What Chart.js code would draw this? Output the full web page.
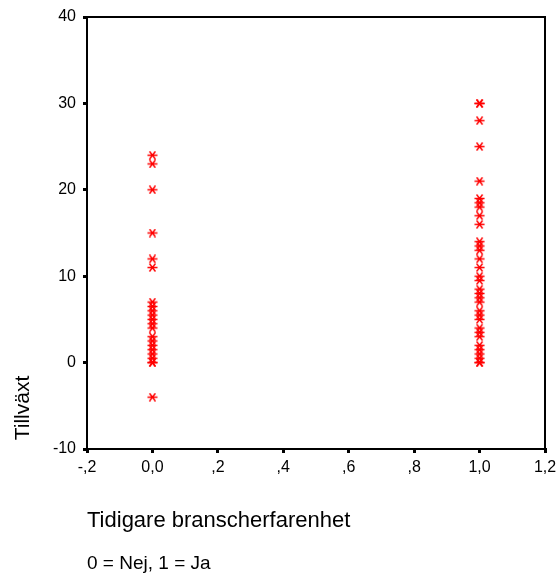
<!DOCTYPE html>
<html>
<head>
<meta charset="utf-8">
<script src="https://cdn.jsdelivr.net/npm/chart.js@4"></script>
<style>
  body { margin: 0; background: #fff; }
</style>
</head>
<body>
<canvas id="scatter" width="557" height="573"></canvas>
<script>
// Tillväxt per grupp: 0 = Nej, 1 = Ja
const groupNej = [24, 23, 20, 15, 12, 11, 7, 6.5, 6, 5.5, 5, 4.5, 4, 3, 2.5, 2, 1.5, 1, 0.5, 0, 0, -4];
const groupJa = [30, 30, 28, 25, 21, 19, 18.5, 18, 17, 16, 14, 13.5, 13, 12, 11, 10, 9.5, 8.5, 8, 7.5,
  7, 6, 5.5, 5, 4, 3.5, 3, 2, 1.5, 1, 0.5, 0, 0];

const xTickValues = [-0.2, 0, 0.2, 0.4, 0.6, 0.8, 1.0, 1.2];
const xTickLabels = ["-,2", "0,0", ",2", ",4", ",6", ",8", "1,0", "1,2"];
const yTickValues = [-10, 0, 10, 20, 30, 40];
const yTickLabels = ["-10", "0", "10", "20", "30", "40"];

const xTitle = "Tidigare branscherfarenhet";
const yTitle = "Tillväxt";
const note = "0 = Nej, 1 = Ja";

const FONT = "'Liberation Sans', Arial, sans-serif";

// asterisk marker: horizontal bar plus an X
function makeStar() {
  const c = document.createElement("canvas");
  c.width = 11;
  c.height = 9;
  const g = c.getContext("2d");
  g.strokeStyle = "#ff0000";
  g.lineWidth = 1.4;
  g.beginPath();
  g.moveTo(0.5, 4.5); g.lineTo(10.5, 4.5);
  g.moveTo(2.5, 0.5); g.lineTo(8.5, 8.5);
  g.moveTo(8.5, 0.5); g.lineTo(2.5, 8.5);
  g.stroke();
  return c;
}
const star = makeStar();

function toPoints(xVal, values) {
  return values.map((v) => ({ x: xVal, y: v }));
}

const frameAndText = {
  id: "frameAndText",
  afterDraw(chart) {
    const { ctx, chartArea } = chart;
    ctx.save();
    // top and right edges of the plot box
    ctx.strokeStyle = "#000";
    ctx.lineWidth = 2;
    ctx.beginPath();
    ctx.moveTo(chartArea.left, chartArea.top);
    ctx.lineTo(chartArea.right, chartArea.top);
    ctx.lineTo(chartArea.right, chartArea.bottom);
    ctx.stroke();

    ctx.fillStyle = "#000";
    ctx.textBaseline = "middle";
    ctx.textAlign = "left";
    ctx.font = "22px " + FONT;
    ctx.fillText(xTitle, chartArea.left, 521);
    ctx.font = "19px " + FONT;
    ctx.fillText(note, chartArea.left, 564);

    ctx.translate(23, 408);
    ctx.rotate(-Math.PI / 2);
    ctx.textAlign = "center";
    ctx.font = "21px " + FONT;
    ctx.fillText(yTitle, 0, 0);
    ctx.restore();
  },
};

new Chart(document.getElementById("scatter"), {
  type: "scatter",
  data: {
    datasets: [
      { label: "Nej", data: toPoints(0, groupNej), pointStyle: star },
      { label: "Ja", data: toPoints(1, groupJa), pointStyle: star },
    ],
  },
  options: {
    responsive: false,
    animation: false,
    layout: { padding: { top: 17, right: 0, left: 0, bottom: 0 } },
    plugins: {
      legend: { display: false },
      tooltip: { enabled: false },
    },
    scales: {
      x: {
        type: "linear",
        min: -0.2,
        max: 1.2,
        afterBuildTicks(scale) {
          scale.ticks = xTickValues.map((v) => ({ value: v }));
        },
        afterFit(scale) {
          scale.height = 124;
          scale.paddingLeft = 0;
          scale.paddingRight = 12;
        },
        border: { display: true, color: "#000", width: 2 },
        grid: { drawOnChartArea: false, drawTicks: true, tickLength: 4, lineWidth: 3, color: "#000" },
        ticks: {
          color: "#000",
          font: { family: FONT, size: 16 },
          padding: 5,
          maxRotation: 0,
          autoSkip: false,
          callback: (v, i) => xTickLabels[i],
        },
      },
      y: {
        type: "linear",
        min: -10,
        max: 40,
        afterBuildTicks(scale) {
          scale.ticks = yTickValues.map((v) => ({ value: v }));
        },
        afterFit(scale) {
          scale.width = 87;
        },
        border: { display: true, color: "#000", width: 2 },
        grid: { drawOnChartArea: false, drawTicks: true, tickLength: 4, lineWidth: 3, color: "#000" },
        ticks: {
          color: "#000",
          font: { family: FONT, size: 16 },
          padding: 7,
          autoSkip: false,
          callback: (v, i) => yTickLabels[i],
        },
      },
    },
  },
  plugins: [frameAndText],
});
</script>
</body>
</html>
